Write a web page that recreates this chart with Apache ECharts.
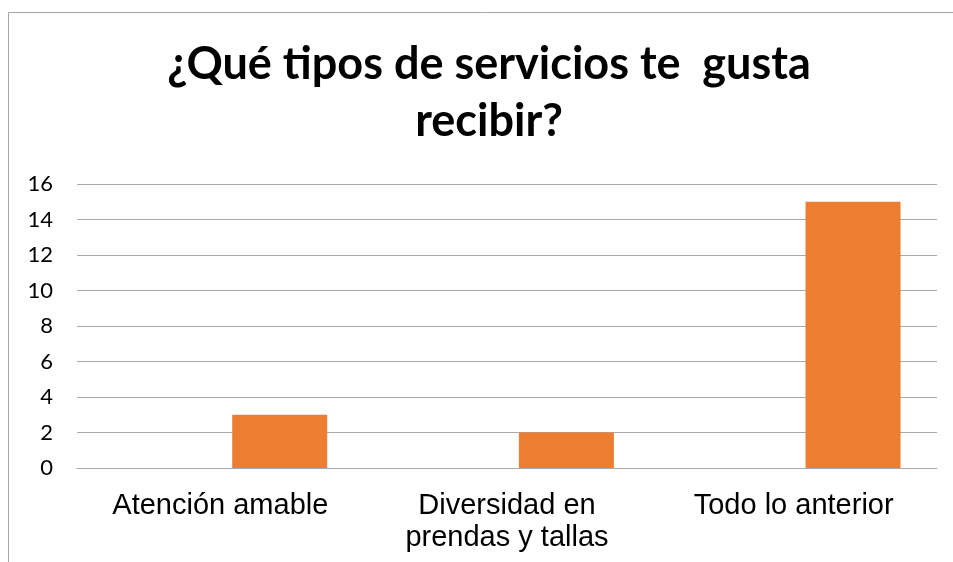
<!DOCTYPE html>
<html>
<head>
    <meta charset="UTF-8">
    <title>Servicios</title>
    <script src="https://cdn.jsdelivr.net/npm/echarts@6/dist/echarts.min.js"></script>
    <style>
        html, body { margin: 0; padding: 0; background: #fff; }
        #main { width: 953px; height: 562px; }
    </style>
</head>
<body>
<div id="main"></div>
<script type="text/javascript">
    // datos del grafico
    var categorias = ['Atención amable', 'Diversidad en\nprendas y tallas', 'Todo lo anterior'];
    var serieVacia = [null, null, null];   // primera serie sin datos (ocupa su hueco)
    var valores = [3, 2, 15];
    var ticksY = [0, 2, 4, 6, 8, 10, 12, 14, 16];

    var gris = '#a9a9a9';
    var myChart = echarts.init(document.getElementById('main'));

    var option = {
        backgroundColor: '#fff',
        animation: false,
        title: {
            text: '¿Qué tipos de servicios te  gusta\nrecibir?',
            left: 484,
            top: 31,
            textAlign: 'center',
            textStyle: {
                fontFamily: 'Lato',
                fontWeight: 'bold',
                fontSize: 45,
                lineHeight: 57,
                color: '#000'
            }
        },
        // marco del grafico (solo arriba e izquierda se ven)
        graphic: [{
            type: 'polyline',
            shape: { points: [[8.5, 562], [8.5, 12.5], [953, 12.5]] },
            style: { stroke: '#a6a6a6', lineWidth: 1, fill: null },
            silent: true
        }],
        grid: {
            left: 77,
            right: 16,
            top: 184,
            bottom: 94,
            containLabel: false
        },
        xAxis: {
            type: 'category',
            data: categorias,
            axisLine: { show: true, lineStyle: { color: gris, width: 1 } },
            axisTick: { show: false },
            axisLabel: {
                margin: 22,
                fontFamily: 'Liberation Sans',
                fontSize: 29,
                lineHeight: 32,
                color: '#000'
            }
        },
        yAxis: {
            type: 'value',
            min: ticksY[0],
            max: ticksY[ticksY.length - 1],
            interval: 2,
            axisLine: { show: false },
            axisTick: { show: false },
            splitLine: { lineStyle: { color: gris, width: 1 } },
            axisLabel: {
                margin: 24,
                fontFamily: 'Lato',
                fontSize: 22,
                color: '#000'
            }
        },
        series: [{
            name: 'Serie1',
            type: 'bar',
            data: serieVacia,
            barWidth: 95,
            barGap: '25%',
            itemStyle: { color: '#5b9bd5' }
        }, {
            name: 'Serie2',
            type: 'bar',
            data: valores,
            barWidth: 95,
            barGap: '25%',
            itemStyle: { color: '#ed7d31' }
        }]
    };
    myChart.setOption(option);
</script>
</body>
</html>
